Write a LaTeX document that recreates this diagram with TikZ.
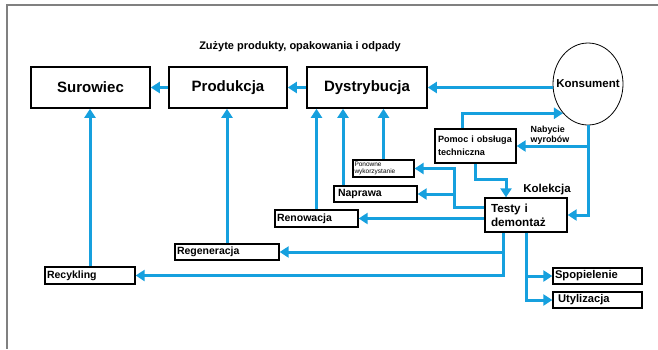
\documentclass[tikz,border=0pt]{standalone}
\usepackage{fontspec}
\setmainfont{Liberation Sans}
\usetikzlibrary{arrows.meta,shapes.geometric}
\definecolor{flow}{RGB}{22,160,222}
\tikzset{
  arr/.style={draw=flow, line width=3pt, -{Triangle[length=9pt,width=11pt]}},
  bigbox/.style={draw, line width=1.6pt, inner sep=0pt, font=\bfseries\fontsize{15}{17}\selectfont},
  lbox/.style={draw, line width=1.3pt, inner ysep=0pt, inner xsep=2pt, align=left, font=\bfseries\fontsize{10.5}{12}\selectfont},
  plain/.style={inner sep=0pt, font=\bfseries\fontsize{#1}{#1}\selectfont},
}
\begin{document}
\begin{tikzpicture}[x=1pt,y=-1pt]
\useasboundingbox (0,0) rectangle (658,349);
\draw[gray, line width=1.5pt] (658,5) -- (7,5) -- (7,349);

\node[plain=11] (title) at (300,47) {Zużyte produkty, opakowania i odpady};

\node[bigbox, minimum width=119pt, minimum height=41pt] (sur) at (90.5,87.5) {Surowiec};
\node[bigbox, minimum width=118pt, minimum height=41pt] (prod) at (228,87.5) {Produkcja};
\node[bigbox, minimum width=120pt, minimum height=41pt] (dyst) at (367,87.5) {Dystrybucja};
\node[draw, ellipse, line width=0.8pt, inner sep=0pt, minimum width=70pt, minimum height=82pt,
      font=\bfseries\fontsize{11.5}{13}\selectfont] (kons) at (588,84) {\makebox[40pt][c]{Konsument}};

\node[lbox, inner xsep=3pt, text width=75pt, minimum height=34pt, font=\bfseries\fontsize{9.1}{13}\selectfont] (pomoc) at (475.5,146) {\mbox{Pomoc i obsługa}\\techniczna};
\node[draw, line width=1.2pt, inner ysep=0pt, inner xsep=1.5pt, align=left, text width=58pt, minimum height=17pt,
      font=\fontsize{6.5}{7.5}\selectfont] (ponow) at (383.5,168.5) {Ponowne\\wykorzystanie};
\node[lbox, inner xsep=4pt, text width=75pt, minimum height=16pt] (napr) at (375.5,194) {Naprawa};
\node[lbox, text width=79pt, minimum height=17pt] (renow) at (316.5,218.5) {Renowacja};
\node[lbox, text width=100pt, minimum height=16pt] (regen) at (227,252) {Regeneracja};
\node[lbox, text width=86pt, minimum height=17pt] (recyk) at (90,275.5) {Recykling};
\node[lbox, inner xsep=6pt, text width=70pt, minimum height=34pt, font=\bfseries\fontsize{11.7}{14}\selectfont] (testy) at (526,215) {Testy i\\demontaż};
\node[lbox, text width=85pt, minimum height=16pt, font=\bfseries\fontsize{11.2}{12}\selectfont] (spop) at (597.5,276) {Spopielenie};
\node[lbox, inner xsep=5pt, text width=79pt, minimum height=16pt, font=\bfseries\fontsize{11.2}{12}\selectfont] (utyl) at (597.5,300) {Utylizacja};

\node[plain=11.5] (kol) at (547,190) {Kolekcja};
\node[align=left, inner sep=0pt, font=\bfseries\fontsize{8.9}{10}\selectfont] (nab) at (550,135) {Nabycie\\wyrobów};

% main chain
\draw[arr] (prod.west) -- (sur.east);
\draw[arr] (dyst.west) -- (prod.east);
\draw[arr] (kons.west |- dyst.east) -- (dyst.east);

% consumer loops
\draw[arr] ([xshift=-13.5pt]pomoc.north) |- (kons.south west);
\draw[arr] (kons.south) |- (testy.east);
\draw[arr] (kons.south |- pomoc.east) -- (pomoc.east);
\draw[arr] (pomoc.south) -- ++(0,16) -| ([xshift=-20pt]testy.north);

% from testy to reuse/repair
\coordinate (j1) at (454,207);
\draw[arr] ([yshift=8pt]testy.west) -- (j1) |- (ponow.east);
\draw[arr] (j1 |- napr.east) -- (napr.east);
\draw[arr] (testy.west |- renow.east) -- (renow.east);

% up to chain
\draw[arr] (renow.north) -- (renow.north |- dyst.south);
\draw[arr] ([xshift=-32.5pt]napr.north) coordinate (n1) -- (n1 |- dyst.south);
\draw[arr] (ponow.north) -- (ponow.north |- dyst.south);
\draw[arr] (regen.north) -- (regen.north |- prod.south);
\draw[arr] (recyk.north) -- (recyk.north |- sur.south);

% from testy down
\draw[arr] ([xshift=-23pt]testy.south) coordinate (t1) |- (recyk.east);
\draw[arr] (t1 |- regen.east) -- (regen.east);
\draw[arr] (testy.south) |- (utyl.west);
\draw[arr] (testy.south |- spop.west) -- (spop.west);
\end{tikzpicture}
\end{document}
